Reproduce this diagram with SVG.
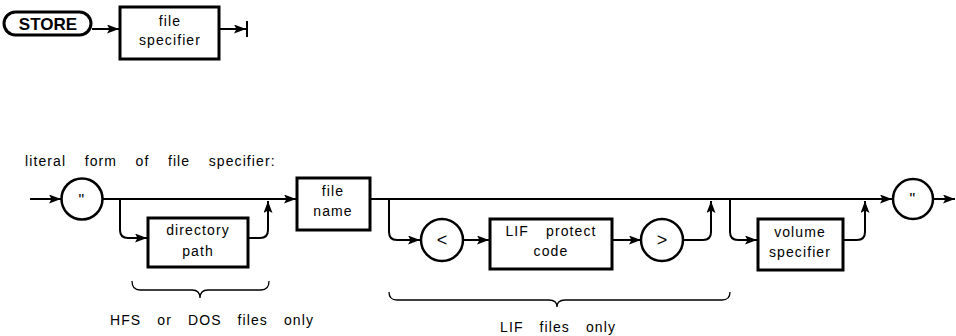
<svg xmlns="http://www.w3.org/2000/svg" width="956" height="336" viewBox="0 0 956 336">
<defs>
<marker id="ah" viewBox="0 0 12 9" refX="12" refY="4.5" markerWidth="12" markerHeight="9" markerUnits="userSpaceOnUse" orient="auto">
<path d="M0,0 L12,4.5 L0,9 L2.5,4.5 Z" fill="#000"/>
</marker>
<style>
.box{fill:#fff;stroke:#000;stroke-width:3}
.circ{fill:#fff;stroke:#000;stroke-width:2.5}
.ln{fill:none;stroke:#000;stroke-width:2}
.ar{fill:none;stroke:#000;stroke-width:2;marker-end:url(#ah)}
.br{fill:none;stroke:#000;stroke-width:1.3}
text{font-family:"Liberation Sans","DejaVu Sans",sans-serif;font-size:14px;fill:#000;letter-spacing:1.1px}
.c{text-anchor:middle}
.lbl{word-spacing:12px}
</style>
</defs>
<g id="connectors">
<line class="ar" x1="92" y1="29" x2="119" y2="29"/>
<line class="ar" x1="220" y1="29" x2="246" y2="29"/>
<line class="ln" x1="247" y1="21" x2="247" y2="37"/>
<line class="ar" x1="30" y1="199" x2="61" y2="199"/>
<line class="ar" x1="102" y1="199" x2="296" y2="199"/>
<path class="ar" d="M120,199 V230 Q120,238 128,238 H147"/>
<path class="ar" d="M248,238 H260 Q268,238 268,230 V201"/>
<line class="ar" x1="370" y1="199" x2="892" y2="199"/>
<path class="ar" d="M389,199 V232 Q389,240 397,240 H420"/>
<line class="ar" x1="463" y1="240" x2="489" y2="240"/>
<line class="ar" x1="612" y1="240" x2="641" y2="240"/>
<path class="ar" d="M683,240 H703 Q711,240 711,232 V201"/>
<path class="ar" d="M730,199 V232 Q730,240 738,240 H757"/>
<path class="ar" d="M843,240 H857 Q865,240 865,232 V201"/>
<line class="ar" x1="933" y1="199" x2="955" y2="199"/>
</g>
<g id="store">
<rect class="box" x="4" y="12" width="87" height="23" rx="11.5"/>
<text class="c" x="48" y="29.5" style="font-size:17px;font-weight:600;letter-spacing:0">STORE</text>
</g>
<g id="file-specifier">
<rect class="box" x="120" y="7" width="99" height="52"/>
<text class="c" x="170" y="26">file</text>
<text class="c" x="170" y="45">specifier</text>
</g>
<text id="literal-label" x="25" y="166" style="word-spacing:13.5px">literal form of file specifier:</text>
<g id="quote-open">
<circle class="circ" cx="82" cy="199" r="20.5"/>
<text class="c" x="82" y="206" style="font-size:16px">"</text>
</g>
<g id="directory-path">
<rect class="box" x="148" y="218" width="100" height="49"/>
<text class="c" x="198" y="235">directory</text>
<text class="c" x="198" y="256">path</text>
</g>
<g id="file-name">
<rect class="box" x="297" y="178" width="73" height="52"/>
<text class="c" x="333" y="196">file</text>
<text class="c" x="333" y="216">name</text>
</g>
<g id="lt">
<circle class="circ" cx="442" cy="240" r="21"/>
<text class="c" x="442" y="246" style="font-size:18px;letter-spacing:0">&lt;</text>
</g>
<g id="lif-protect-code">
<rect class="box" x="490" y="219" width="122" height="50"/>
<text class="c lbl" x="551" y="236">LIF protect</text>
<text class="c" x="551" y="256">code</text>
</g>
<g id="gt">
<circle class="circ" cx="662" cy="240" r="21"/>
<text class="c" x="662" y="246" style="font-size:18px;letter-spacing:0">&gt;</text>
</g>
<g id="volume-specifier">
<rect class="box" x="758" y="219" width="85" height="51"/>
<text class="c" x="800" y="237">volume</text>
<text class="c" x="800" y="257">specifier</text>
</g>
<g id="quote-close">
<circle class="circ" cx="913" cy="199" r="20"/>
<text class="c" x="913" y="205" style="font-size:16px">"</text>
</g>
<g id="braces">
<path class="br" d="M132,281 Q132,290 140,290 H192 Q200,290 200,298 Q200,290 208,290 H261 Q269,290 269,281"/>
<path class="br" d="M389,292 Q389,300 397,300 H549 Q557,300 557,307 Q557,300 565,300 H722 Q730,300 730,292"/>
</g>
<text id="hfs-label" class="lbl" x="110" y="325" style="word-spacing:11px">HFS or DOS files only</text>
<text id="lif-label" class="lbl" x="500" y="332" style="word-spacing:11px">LIF files only</text>
</svg>
